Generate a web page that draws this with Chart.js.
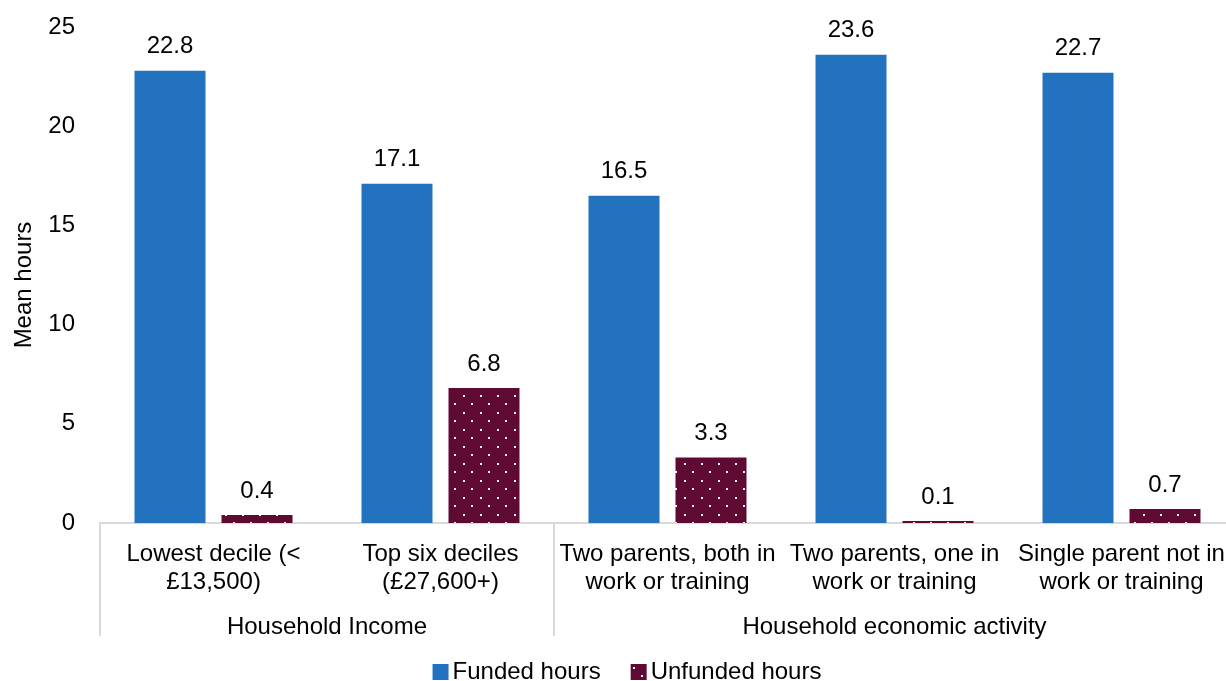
<!DOCTYPE html>
<html>
<head>
<meta charset="utf-8">
<title>Mean funded and unfunded hours</title>
<script src="https://cdn.jsdelivr.net/npm/chart.js@4.4.1/dist/chart.umd.min.js"></script>
<style>
  html, body { margin: 0; padding: 0; background: #fff; overflow: hidden; }
  #wrap { width: 1240px; height: 681px; position: relative; }
</style>
</head>
<body>
<div id="wrap"><canvas id="chart"></canvas></div>
<script>
// Categories (two-line labels) and the groups they belong to
const categories = [
  ["Lowest decile (<", "£13,500)"],
  ["Top six deciles", "(£27,600+)"],
  ["Two parents, both in", "work or training"],
  ["Two parents, one in", "work or training"],
  ["Single parent not in", "work or training"]
];
const groupNames = ["Household Income", "Household economic activity"];
const groupSizes = [2, 3];

// Series values (mean hours)
const fundedHours = [22.8, 17.1, 16.5, 23.6, 22.7];
const unfundedHours = [0.4, 6.8, 3.3, 0.1, 0.7];
const seriesNames = ["Funded hours", "Unfunded hours"];

// Y axis ticks
const yTicks = [0, 5, 10, 15, 20, 25];
const yTitle = "Mean hours";

const FONT = "Liberation Sans, Arial, Helvetica, sans-serif";
const FS = 24;
const BLUE = "#2372BF";
const MAROON = "#5F0A33";
const LINE = "#D9D9D9";
const TEXT = "#000000";

// White dotted fill for the unfunded bars
function dotPattern() {
  const c = document.createElement("canvas");
  c.width = 17; c.height = 17;
  const g = c.getContext("2d");
  g.fillStyle = MAROON;
  g.fillRect(0, 0, 17, 17);
  g.fillStyle = "rgba(255,255,255,0.95)";
  g.fillRect(4, 4, 2, 2);
  g.fillRect(12, 12, 2, 2);
  return g.createPattern(c, "repeat");
}
const dots = dotPattern();

const overlay = {
  id: "overlay",
  afterDatasetsDraw(chart) {
    const ctx = chart.ctx;
    const x = chart.scales.x;
    ctx.save();
    ctx.fillStyle = TEXT;
    ctx.font = FS + "px " + FONT;
    ctx.textAlign = "center";
    ctx.textBaseline = "middle";

    // value labels above each bar
    chart.data.datasets.forEach((ds, di) => {
      const meta = chart.getDatasetMeta(di);
      meta.data.forEach((bar, i) => {
        ctx.fillText(ds.data[i].toFixed(1), bar.x, bar.y - 24);
      });
    });

    // group labels and separators below the axis
    ctx.strokeStyle = LINE;
    ctx.lineWidth = 2;
    const step = x.getPixelForValue(1) - x.getPixelForValue(0);
    let start = 0;
    const edges = [x.getPixelForValue(0) - step / 2];
    groupSizes.forEach((size, gi) => {
      const left = x.getPixelForValue(start) - step / 2;
      const right = x.getPixelForValue(start + size - 1) + step / 2;
      edges.push(right);
      ctx.fillText(groupNames[gi], (left + right) / 2, x.top + 104);
      start += size;
    });
    edges.forEach((ex, k) => {
      if (k === edges.length - 1) return;
      const px = Math.round(ex);
      ctx.beginPath();
      ctx.moveTo(px, x.top);
      ctx.lineTo(px, x.bottom);
      ctx.stroke();
    });

    // y axis title
    ctx.save();
    ctx.translate(24, (chart.chartArea.top + chart.chartArea.bottom) / 2 + 10);
    ctx.rotate(-Math.PI / 2);
    ctx.fillText(yTitle, 0, 0);
    ctx.restore();

    // legend
    ctx.textAlign = "left";
    const box = 16, gap = 4, spacing = 30;
    const widths = seriesNames.map(s => ctx.measureText(s).width);
    const total = widths.reduce((a, b) => a + b, 0) + 2 * (box + gap) + spacing;
    let lx = 627 - total / 2;
    const ly = 672;
    const fills = [BLUE, dots];
    seriesNames.forEach((s, i) => {
      ctx.fillStyle = fills[i];
      ctx.fillRect(lx, ly - box / 2, box, box);
      ctx.fillStyle = TEXT;
      ctx.fillText(s, lx + box + gap, ly);
      lx += box + gap + widths[i] + spacing;
    });
    ctx.restore();
  }
};

new Chart(document.getElementById("chart"), {
  type: "bar",
  data: {
    labels: categories,
    datasets: [
      { label: seriesNames[0], data: fundedHours, backgroundColor: BLUE },
      { label: seriesNames[1], data: unfundedHours, backgroundColor: dots }
    ]
  },
  options: {
    responsive: true,
    maintainAspectRatio: false,
    animation: false,
    devicePixelRatio: 1,
    layout: { padding: { top: 27, right: 5, bottom: 45, left: 0 } },
    datasets: { bar: { categoryPercentage: 0.7665, barPercentage: 0.816 } },
    plugins: { legend: { display: false }, tooltip: { enabled: false } },
    scales: {
      x: {
        grid: { display: false, drawTicks: false },
        border: { display: true, color: LINE, width: 2 },
        ticks: {
          color: TEXT, padding: 18, maxRotation: 0, autoSkip: false,
          font: { family: FONT, size: FS, lineHeight: 1.15 }
        },
        afterFit(scale) {
          scale.height = 113;
          scale.paddingLeft = 0;
          scale.paddingRight = 0;
        }
      },
      y: {
        min: 0, max: 25,
        afterBuildTicks(scale) { scale.ticks = yTicks.map(v => ({ value: v })); },
        grid: { display: false, drawTicks: false },
        border: { display: false },
        ticks: {
          color: TEXT, padding: 25,
          font: { family: FONT, size: FS }
        },
        afterFit(scale) {
          scale.width = 100;
          scale.paddingTop = 14;
          scale.paddingBottom = 14;
        }
      }
    }
  },
  plugins: [overlay]
});
</script>
</body>
</html>
